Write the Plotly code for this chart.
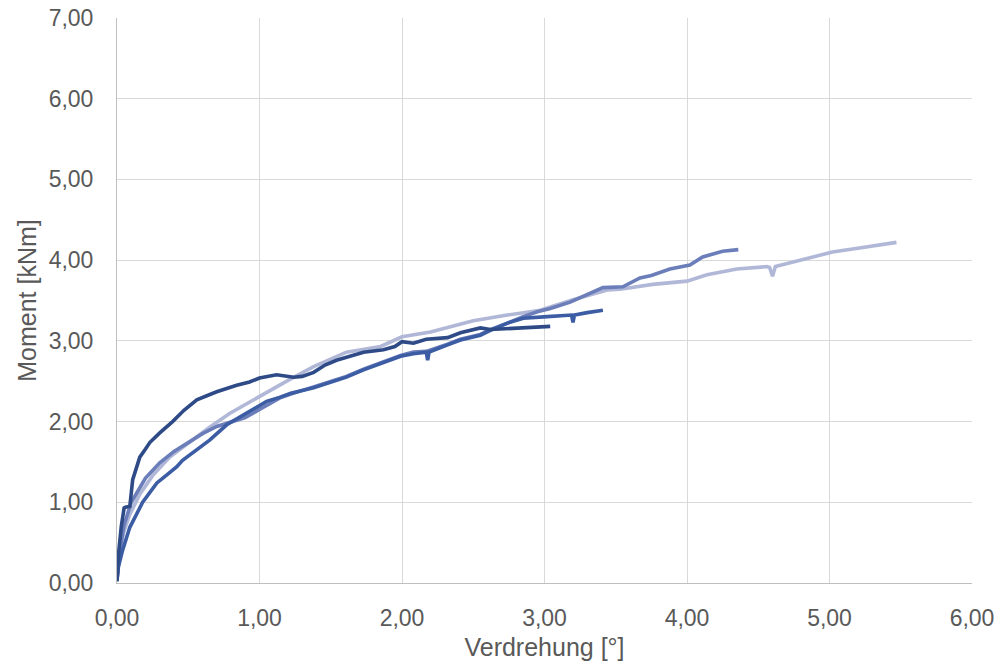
import plotly.graph_objects as go

# Series A (dark navy)
xA = [0, 0.01, 0.03, 0.05, 0.06, 0.09, 0.11, 0.16, 0.20, 0.23, 0.30, 0.39, 0.47, 0.56, 0.63, 0.70, 0.84, 0.93, 1.00, 1.12, 1.24, 1.30, 1.38, 1.46, 1.54, 1.65, 1.73, 1.87, 1.95, 2.00, 2.08, 2.17, 2.32, 2.41, 2.55, 2.62, 2.74, 2.88, 3.04]
yA = [0.02, 0.35, 0.70, 0.93, 0.94, 0.95, 1.28, 1.56, 1.66, 1.74, 1.86, 2.00, 2.14, 2.27, 2.32, 2.37, 2.45, 2.49, 2.54, 2.58, 2.55, 2.56, 2.61, 2.70, 2.76, 2.82, 2.86, 2.89, 2.93, 2.99, 2.97, 3.02, 3.04, 3.10, 3.16, 3.14, 3.15, 3.16, 3.18]

# Series B (medium blue)
xB = [0, 0.01, 0.04, 0.09, 0.18, 0.28, 0.35, 0.42, 0.46, 0.56, 0.65, 0.77, 0.93, 1.05, 1.14, 1.22, 1.38, 1.49, 1.61, 1.73, 1.85, 1.99, 2.08, 2.17, 2.18, 2.19, 2.32, 2.41, 2.55, 2.62, 2.74, 2.85, 3.02, 3.19, 3.20, 3.21, 3.30, 3.41]
yB = [0.03, 0.20, 0.41, 0.69, 1.00, 1.24, 1.34, 1.44, 1.52, 1.65, 1.77, 1.96, 2.12, 2.25, 2.30, 2.35, 2.42, 2.48, 2.55, 2.64, 2.72, 2.81, 2.84, 2.86, 2.76, 2.86, 2.95, 3.01, 3.07, 3.13, 3.22, 3.28, 3.30, 3.32, 3.23, 3.32, 3.35, 3.38]

# Series C (medium-light blue)
xC = [0, 0.02, 0.05, 0.10, 0.20, 0.30, 0.40, 0.50, 0.60, 0.70, 0.80, 0.90, 1.00, 1.14, 1.22, 1.38, 1.49, 1.61, 1.73, 1.85, 1.99, 2.08, 2.17, 2.32, 2.41, 2.55, 2.62, 2.74, 2.85, 2.95, 3.04, 3.18, 3.32, 3.41, 3.55, 3.67, 3.75, 3.88, 4.02, 4.11, 4.25, 4.36]
yC = [0.05, 0.40, 0.72, 1.00, 1.30, 1.49, 1.63, 1.74, 1.85, 1.94, 2.00, 2.05, 2.15, 2.29, 2.34, 2.43, 2.49, 2.56, 2.65, 2.73, 2.82, 2.86, 2.87, 2.96, 3.02, 3.08, 3.14, 3.22, 3.30, 3.36, 3.40, 3.48, 3.59, 3.66, 3.67, 3.78, 3.81, 3.89, 3.94, 4.04, 4.11, 4.13]

# Series D (pale lavender)
xD = [0, 0.02, 0.05, 0.09, 0.16, 0.25, 0.37, 0.49, 0.65, 0.79, 0.93, 1.07, 1.21, 1.38, 1.61, 1.85, 2.00, 2.20, 2.41, 2.50, 2.74, 2.97, 3.20, 3.44, 3.53, 3.76, 4.00, 4.14, 4.35, 4.56, 4.58, 4.60, 4.62, 4.79, 5.02, 5.21, 5.35, 5.47]
yD = [0.05, 0.41, 0.65, 0.85, 1.10, 1.33, 1.56, 1.72, 1.93, 2.10, 2.24, 2.39, 2.52, 2.68, 2.86, 2.93, 3.05, 3.11, 3.20, 3.25, 3.32, 3.38, 3.51, 3.63, 3.64, 3.70, 3.74, 3.82, 3.89, 3.92, 3.91, 3.80, 3.92, 4.00, 4.10, 4.15, 4.19, 4.22]

series = [
    ("D", xD, yD, "#B1B7D7"),
    ("C", xC, yC, "#6B7EBA"),
    ("B", xB, yB, "#3C5CA4"),
    ("A", xA, yA, "#2E4A87"),
]

fig = go.Figure()
for name, xs, ys, col in series:
    fig.add_trace(go.Scatter(x=xs, y=ys, mode="lines", name=name,
                             line=dict(color=col, width=3.6), showlegend=False))

font = "Liberation Sans, Arial, sans-serif"
fig.update_layout(
    width=1001, height=668,
    margin=dict(l=117, r=29, t=18, b=85),
    paper_bgcolor="white", plot_bgcolor="white",
    separators=",.",
    font=dict(family=font, size=23, color="#595959"),
    xaxis=dict(range=[0, 6], dtick=1, tickformat=".2f", showgrid=True,
               gridcolor="#D9D9D9", gridwidth=1, zeroline=False,
               showline=True, linecolor="#BFBFBF", linewidth=1, mirror=False,
               ticks="", ticklabelstandoff=14, automargin=False,
               tickfont=dict(size=23, color="#595959"),
               title=dict(text="Verdrehung [°]", standoff=8,
                          font=dict(size=25, color="#595959"))),
    yaxis=dict(range=[0, 7], dtick=1, tickformat=".2f", showgrid=True,
               gridcolor="#D9D9D9", gridwidth=1, zeroline=False,
               showline=True, linecolor="#BFBFBF", linewidth=1,
               ticks="", ticklabelstandoff=18, automargin=False,
               tickfont=dict(size=23, color="#595959"),
               title=dict(text="Moment [kNm]", standoff=4,
                          font=dict(size=25, color="#595959"))),
)
fig.write_html("out.html")
